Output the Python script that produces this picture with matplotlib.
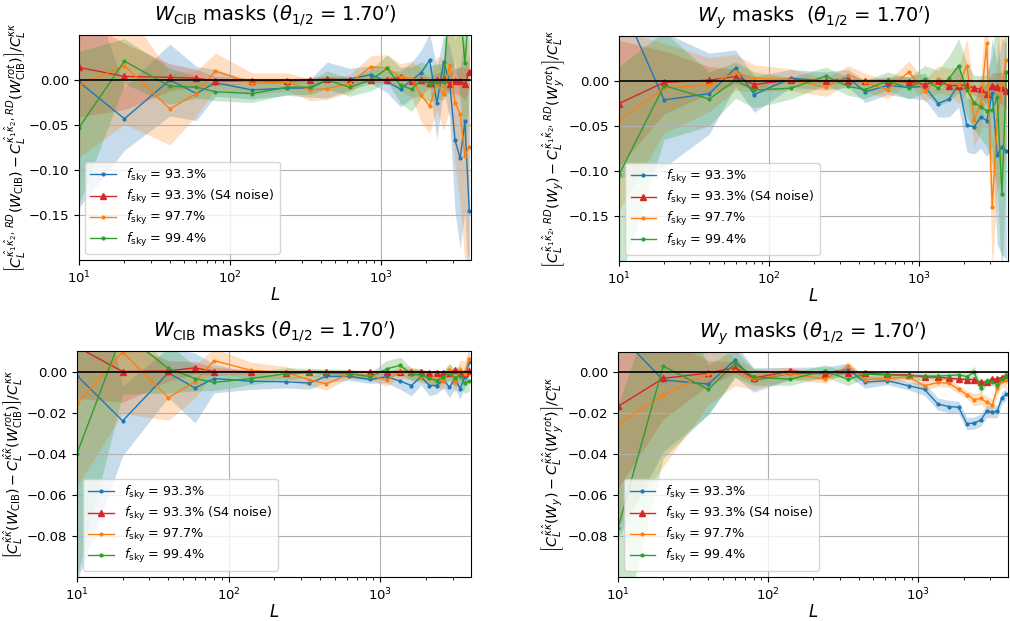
import numpy as np
import matplotlib.pyplot as plt

# multipole bin centres
ell = [10, 20, 40, 60, 80, 140, 240, 340, 440, 620, 860, 1100, 1350, 1600,
       1850, 2100, 2350, 2600, 2850, 3100, 3350, 3600, 3850]

labels = [r'$f_{\rm sky}$ = 93.3%', r'$f_{\rm sky}$ = 93.3% (S4 noise)',
          r'$f_{\rm sky}$ = 97.7%', r'$f_{\rm sky}$ = 99.4%']

# W_CIB masks, kappa1 x kappa2 RD spectrum
cib_rd_933 = [-0.002, -0.043, 0.000, -0.015, -0.003, -0.011, -0.009, -0.009, 0.000, 0.001, 0.006, -0.002,
              -0.010, 0.000, 0.008, 0.022, -0.026, 0.020, -0.002, -0.067, -0.087, -0.046, -0.145]
cib_rd_933s4 = [0.014, 0.004, 0.003, 0.002, -0.001, -0.001, -0.001, 0.000, 0.001, 0.000, 0.000, 0.000,
                0.003, -0.001, 0.000, -0.003, 0.000, 0.001, -0.004, -0.001, -0.001, -0.004, 0.009]
cib_rd_977 = [-0.006, 0.016, -0.032, -0.015, 0.010, -0.004, -0.002, -0.011, -0.0095, -0.004, 0.015, 0.013,
              0.003, 0.001, -0.017, -0.029, -0.004, -0.016, 0.017, -0.025, -0.038, -0.084, -0.074]
cib_rd_994 = [-0.053, 0.021, -0.007, -0.008, -0.013, -0.015, -0.008, -0.008, 0.000, -0.008, 0.000, 0.013,
              -0.006, -0.010, 0.000, -0.004, -0.002, -0.002, 0.09, 0.12, 0.08, 0.019, 0.08]
cib_rd_933_err = [0.14, 0.035, 0.04, 0.03, 0.015, 0.01, 0.008, 0.01, 0.02, 0.012, 0.01, 0.012,
                  0.02, 0.02, 0.025, 0.03, 0.04, 0.03, 0.04, 0.08, 0.1, 0.1, 0.1]
cib_rd_933s4_err = [0.055, 0.037, 0.015, 0.01, 0.005, 0.003, 0.003, 0.003, 0.003, 0.003, 0.003, 0.003,
                    0.003, 0.003, 0.005, 0.006, 0.008, 0.01, 0.012, 0.014, 0.016, 0.018, 0.02]
cib_rd_977_err = [0.08, 0.065, 0.04, 0.025, 0.02, 0.012, 0.01, 0.012, 0.012, 0.01, 0.012, 0.015,
                  0.015, 0.02, 0.03, 0.03, 0.03, 0.04, 0.05, 0.07, 0.1, 0.12, 0.12]
cib_rd_994_err = [0.085, 0.025, 0.02, 0.012, 0.01, 0.01, 0.008, 0.008, 0.01, 0.01, 0.012, 0.015,
                  0.02, 0.025, 0.02, 0.02, 0.02, 0.02, 0.1, 0.1, 0.1, 0.1, 0.1]

# W_y masks, kappa1 x kappa2 RD spectrum
y_rd_933 = [0.092, -0.021, -0.014, 0.0145, -0.015, 0.003, 0.000, 0.003, -0.012, -0.005, -0.007, -0.006,
            -0.025, -0.020, -0.004, -0.049, -0.051, -0.040, -0.044, -0.013, -0.082, -0.073, -0.078]
y_rd_933s4 = [-0.025, -0.0015, 0.001, 0.005, -0.004, 0.0015, 0.000, 0.000, 0.000, 0.000, -0.001, -0.004,
              0.000, -0.005, -0.005, -0.0045, -0.008, -0.009, -0.014, -0.005, -0.007, -0.008, -0.011]
y_rd_977 = [-0.044, -0.008, -0.004, 0.0095, 0.003, 0.0015, -0.007, 0.007, -0.0015, -0.0095, 0.010, -0.011,
            0.002, -0.001, -0.0045, 0.017, -0.043, -0.025, 0.042, -0.140, -0.043, -0.003, 0.023]
y_rd_994 = [-0.104, -0.005, -0.020, 0.001, -0.010, -0.008, 0.0055, -0.006, -0.0095, 0.000, -0.008, 0.002,
            -0.008, 0.003, 0.017, -0.010, -0.024, -0.029, -0.033, -0.032, -0.018, -0.126, 0.010]
y_rd_933_err = [0.2, 0.075, 0.045, 0.02, 0.02, 0.01, 0.01, 0.01, 0.012, 0.01, 0.012, 0.015,
                0.015, 0.02, 0.025, 0.03, 0.03, 0.035, 0.04, 0.06, 0.1, 0.12, 0.12]
y_rd_933s4_err = [0.07, 0.035, 0.015, 0.008, 0.005, 0.003, 0.003, 0.003, 0.003, 0.003, 0.003, 0.003,
                  0.003, 0.004, 0.005, 0.006, 0.008, 0.01, 0.012, 0.014, 0.016, 0.018, 0.02]
y_rd_977_err = [0.1, 0.05, 0.03, 0.02, 0.015, 0.012, 0.01, 0.01, 0.01, 0.01, 0.012, 0.012,
                0.015, 0.015, 0.02, 0.03, 0.03, 0.03, 0.05, 0.07, 0.08, 0.1, 0.1]
y_rd_994_err = [0.12, 0.06, 0.03, 0.02, 0.02, 0.012, 0.01, 0.01, 0.01, 0.01, 0.012, 0.015,
                0.02, 0.025, 0.03, 0.03, 0.03, 0.035, 0.04, 0.06, 0.1, 0.1, 0.1]

# W_CIB masks, kappa-hat auto spectrum
cib_kk_933 = [-0.002, -0.024, -0.0006, -0.008, -0.0034, -0.0047, -0.005, -0.0056, -0.0023, -0.0023, -0.0038, -0.0025,
              -0.0047, -0.0068, -0.0025, -0.0068, -0.0068, -0.0040, -0.0077, -0.0035, -0.0083, -0.0025, 0.0044]
cib_kk_933s4 = [0.012, 0.000, 0.0003, 0.0018, 0.000, 0.000, -0.0005, 0.000, -0.0003, -0.0003, -0.0003, -0.0002,
                0.000, 0.000, -0.0003, -0.0005, -0.0005, -0.0005, -0.0005, 0.0006, -0.0002, -0.0006, 0.0003]
cib_kk_977 = [-0.0158, 0.0095, -0.0127, -0.005, 0.0053, 0.0006, -0.0006, -0.004, -0.006, -0.0013, -0.002, -0.0042,
              -0.0002, -0.001, -0.0025, -0.003, -0.004, -0.0045, 0.0006, -0.005, 0.0007, -0.001, 0.0063]
cib_kk_994 = [-0.040, 0.019, 0.0015, -0.0034, -0.0053, -0.0034, -0.0011, -0.0005, -0.0007, -0.001, -0.0025, 0.0013,
              0.003, -0.0013, -0.0015, -0.0033, -0.0045, -0.0025, -0.0005, -0.003, -0.002, -0.0057, -0.0045]
cib_kk_933_err = [0.1, 0.017, 0.012, 0.017, 0.007, 0.004, 0.003, 0.003, 0.003, 0.002, 0.002, 0.003,
                  0.004, 0.005, 0.004, 0.005, 0.004, 0.004, 0.005, 0.005, 0.005, 0.005, 0.005]
cib_kk_933s4_err = [0.025, 0.015, 0.005, 0.003, 0.002, 0.001, 0.001, 0.001, 0.001, 0.001, 0.001, 0.001,
                    0.001, 0.001, 0.001, 0.001, 0.001, 0.001, 0.001, 0.001, 0.001, 0.001, 0.001]
cib_kk_977_err = [0.04, 0.03, 0.011, 0.008, 0.006, 0.004, 0.003, 0.003, 0.003, 0.002, 0.002, 0.003,
                  0.003, 0.003, 0.003, 0.003, 0.004, 0.004, 0.004, 0.005, 0.005, 0.006, 0.006]
cib_kk_994_err = [0.06, 0.03, 0.012, 0.006, 0.004, 0.003, 0.003, 0.002, 0.002, 0.002, 0.002, 0.004,
                  0.004, 0.003, 0.003, 0.003, 0.003, 0.003, 0.004, 0.004, 0.005, 0.005, 0.005]

# W_y masks, kappa-hat auto spectrum
y_kk_933 = [0.019, -0.0037, -0.0057, 0.006, -0.0037, -0.0005, -0.0003, 0.0015, -0.0047, -0.004, -0.0065, -0.0083,
            -0.0155, -0.0167, -0.017, -0.025, -0.0248, -0.0233, -0.019, -0.0193, -0.019, -0.0123, -0.0107]
y_kk_933s4 = [-0.0166, -0.0029, -0.0003, 0.0024, -0.0028, 0.0007, -0.0006, -0.0002, -0.0002, -0.001, -0.0012, -0.0022,
              -0.0023, -0.0029, -0.0032, -0.0035, -0.0035, -0.0049, -0.0045, -0.0034, -0.003, -0.0025, -0.0015]
y_kk_977 = [-0.0252, -0.011, -0.0007, 0.0005, -0.0033, -0.0005, -0.0033, 0.003, -0.0035, -0.003, -0.0022, -0.0065,
            -0.0049, -0.0053, -0.0082, -0.0108, -0.0133, -0.0127, -0.0146, -0.016, -0.0078, -0.0042, -0.0037]
y_kk_994 = [-0.076, 0.0031, -0.0083, 0.0044, -0.0023, -0.0033, 0.0008, -0.0034, -0.0008, -0.0012, -0.0015, -0.0017,
            -0.0018, -0.0015, -0.0012, -0.002, 0.0000, -0.0076, -0.0043, -0.0045, -0.0062, -0.003, -0.0015]
y_kk_933_err = [0.1, 0.035, 0.015, 0.008, 0.006, 0.003, 0.003, 0.003, 0.003, 0.002, 0.002, 0.003,
                0.003, 0.003, 0.003, 0.003, 0.003, 0.003, 0.003, 0.003, 0.003, 0.003, 0.003]
y_kk_933s4_err = [0.04, 0.02, 0.006, 0.003, 0.002, 0.001, 0.0008, 0.0008, 0.0008, 0.0008, 0.0008, 0.0008,
                  0.0008, 0.0008, 0.0008, 0.0008, 0.0008, 0.0008, 0.0008, 0.0008, 0.0008, 0.0008, 0.0008]
y_kk_977_err = [0.05, 0.035, 0.015, 0.007, 0.005, 0.003, 0.002, 0.002, 0.002, 0.002, 0.002, 0.002,
                0.002, 0.002, 0.002, 0.002, 0.003, 0.003, 0.003, 0.003, 0.003, 0.003, 0.004]
y_kk_994_err = [0.06, 0.045, 0.012, 0.007, 0.004, 0.003, 0.003, 0.003, 0.002, 0.002, 0.002, 0.002,
                0.002, 0.002, 0.002, 0.002, 0.003, 0.003, 0.002, 0.002, 0.002, 0.002, 0.002]

colors = ['tab:blue', 'tab:red', 'tab:orange', 'tab:green']
markers = ['.', '^', '.', '.']
msizes = [4, 5, 4, 4]


def plot_panel(ax, vals, errs, title, ylabel, ylim, yticks):
    L = np.array(ell)
    for v, e, c, m, ms, lab in zip(vals, errs, colors, markers, msizes, labels):
        v = np.array(v)
        e = np.array(e)
        ax.fill_between(L, v - e, v + e, color=c, alpha=0.25, lw=0)
        ax.plot(L, v, color=c, marker=m, ms=ms, lw=1, label=lab)
    ax.axhline(0, color='black', lw=1.2)
    ax.set_xscale('log')
    ax.set_xlim(10, 3950)
    ax.set_ylim(ylim)
    ax.set_yticks(yticks)
    ax.grid(True)
    ax.set_title(title, fontsize=14, pad=10)
    ax.set_xlabel(r'$L$', fontsize=12, labelpad=0)
    ax.set_ylabel(ylabel, fontsize=10.3, labelpad=1)
    ax.tick_params(labelsize=9.5)
    ax.legend(loc='lower left', fontsize=9.2, labelspacing=0.25)


fig = plt.figure(figsize=(10.1, 6.21), dpi=100)
ax1 = fig.add_axes([0.0782, 0.5813, 0.3881, 0.3623])
ax2 = fig.add_axes([0.6129, 0.5797, 0.3851, 0.3623])
ax3 = fig.add_axes([0.0762, 0.0709, 0.3901, 0.3639])
ax4 = fig.add_axes([0.6119, 0.0709, 0.3861, 0.3623])

rd = r'\hat{\kappa}_1\hat{\kappa}_2,\,RD'
kk = r'\hat{\kappa}\hat{\kappa}'

plot_panel(ax1, [cib_rd_933, cib_rd_933s4, cib_rd_977, cib_rd_994],
           [cib_rd_933_err, cib_rd_933s4_err, cib_rd_977_err, cib_rd_994_err],
           r'$W_{\rm CIB}$ masks ($\theta_{1/2}$ = $1.70^{\prime}$)',
           r'$\left[C_L^{' + rd + r'}(W_{\rm CIB}) - C_L^{' + rd + r'}(W_{\rm CIB}^{rot})\right]/C_L^{\kappa\kappa}$',
           (-0.2, 0.05), [-0.15, -0.10, -0.05, 0.00])
plot_panel(ax2, [y_rd_933, y_rd_933s4, y_rd_977, y_rd_994],
           [y_rd_933_err, y_rd_933s4_err, y_rd_977_err, y_rd_994_err],
           r'$W_y$ masks  ($\theta_{1/2}$ = $1.70^{\prime}$)',
           r'$\left[C_L^{' + rd + r'}(W_y) - C_L^{' + rd + r'}(W_y^{rot})\right]/C_L^{\kappa\kappa}$',
           (-0.2, 0.05), [-0.15, -0.10, -0.05, 0.00])
plot_panel(ax3, [cib_kk_933, cib_kk_933s4, cib_kk_977, cib_kk_994],
           [cib_kk_933_err, cib_kk_933s4_err, cib_kk_977_err, cib_kk_994_err],
           r'$W_{\rm CIB}$ masks ($\theta_{1/2}$ = $1.70^{\prime}$)',
           r'$\left[C_L^{' + kk + r'}(W_{\rm CIB}) - C_L^{' + kk + r'}(W_{\rm CIB}^{rot})\right]/C_L^{\kappa\kappa}$',
           (-0.1, 0.01), [-0.08, -0.06, -0.04, -0.02, 0.00])
plot_panel(ax4, [y_kk_933, y_kk_933s4, y_kk_977, y_kk_994],
           [y_kk_933_err, y_kk_933s4_err, y_kk_977_err, y_kk_994_err],
           r'$W_y$ masks ($\theta_{1/2}$ = $1.70^{\prime}$)',
           r'$\left[C_L^{' + kk + r'}(W_y) - C_L^{' + kk + r'}(W_y^{rot})\right]/C_L^{\kappa\kappa}$',
           (-0.1, 0.01), [-0.08, -0.06, -0.04, -0.02, 0.00])

fig.savefig('out.png', dpi=100)
plt.close(fig)
